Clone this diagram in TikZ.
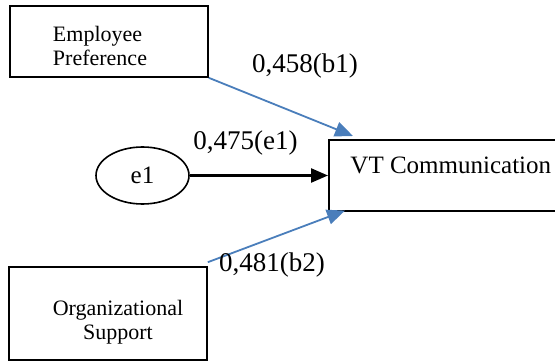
\documentclass[tikz,border=0pt]{standalone}
\usepackage{fontspec}
\setmainfont{Liberation Serif}
\usetikzlibrary{arrows.meta,shapes.geometric}
\definecolor{arrowblue}{HTML}{4A7EBB}
\tikzset{
  boxnode/.style={draw=black, line width=1.6pt, rectangle, inner sep=0pt},
  boxtext/.style={inner sep=0pt, font=\fontsize{22}{24}\selectfont},
  coef/.style={inner sep=0pt, font=\fontsize{27}{30}\selectfont},
  bluearrow/.style={draw=arrowblue, line width=1.8pt, -{Triangle[length=18pt,width=15pt]}},
  blackarrow/.style={draw=black, line width=2.4pt, -{Triangle[length=17pt,width=14pt]}}
}
\begin{document}
\begin{tikzpicture}[x=1pt,y=-1pt]
\useasboundingbox (0,0) rectangle (555,362);
% boxes
\node[boxnode, minimum width=198pt, minimum height=71pt] (ep) at (109,41.5) {};
\node[boxtext, align=left] (eptext) at (100,46) {Employee\\Preference};
\node[boxnode, minimum width=198pt, minimum height=93pt] (os) at (108,313.5) {};
\node[boxtext, align=center] (ostext) at (118,322) {Organizational\\Support};
\node[boxnode, anchor=north west, minimum width=244pt, minimum height=71pt,
      text height=33.7pt, text depth=37.3pt, font=\fontsize{25}{28}\selectfont] (vt) at (328,139) {VT Communication};
\node[draw=black, line width=1.6pt, ellipse, minimum width=93pt, minimum height=57pt, inner sep=0pt,
      font=\fontsize{25}{28}\selectfont] (e1) at (142.5,175.5) {e1};
% coordinates for arrow ends
\coordinate (t1) at ([xshift=25pt,yshift=3pt]vt.north west);
\coordinate (t2) at ([xshift=17pt,yshift=1pt]vt.south west);
\coordinate (s2) at ([yshift=4pt]os.north east);
% connectors
\draw[bluearrow] (ep.south east) -- (t1);
\draw[bluearrow] (s2) -- (t2);
\draw[blackarrow] (e1.east) -- (vt.west |- e1.east);
% coefficient labels
\node[coef] (l1) at (305,66) {0,458(b1)};
\node[coef] (l2) at (245.5,143) {0,475(e1)};
\node[coef] (l3) at (272,265) {0,481(b2)};
\end{tikzpicture}
\end{document}
